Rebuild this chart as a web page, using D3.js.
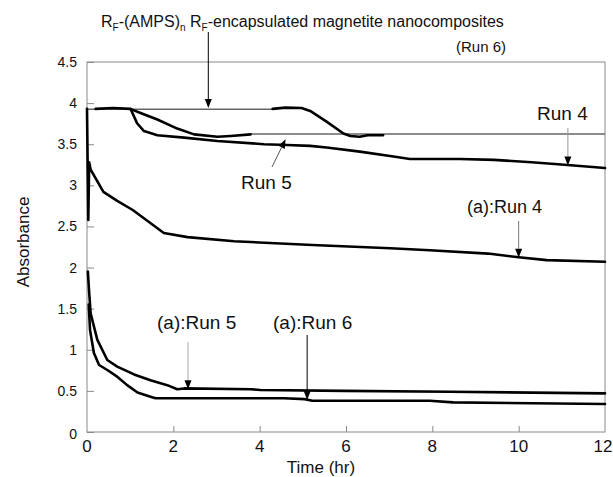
<!DOCTYPE html>
<html>
<head>
<meta charset="utf-8">
<script src="https://cdn.jsdelivr.net/npm/d3@7"></script>
<style>
  html, body { margin: 0; padding: 0; background: #fff; }
  svg { display: block; font-family: "Liberation Sans", Arial, Helvetica, sans-serif; }
</style>
</head>
<body>
<svg id="chart" width="613" height="477"></svg>
<script>
// Absorbance vs. time, [time (hr), absorbance]
const run6Flat = [[0, 3.925], [4.3, 3.925]];
const run6 = [[4.3, 3.93], [4.6, 3.945], [4.97, 3.94], [5.17, 3.905], [5.55, 3.775], [5.94, 3.63],
  [6.1, 3.6], [6.32, 3.59], [6.5, 3.61], [6.86, 3.61]];
const run5 = [[0.2, 3.93], [0.6, 3.94], [1.0, 3.93], [1.24, 3.88], [1.63, 3.8], [2.09, 3.69],
  [2.48, 3.62], [3.02, 3.59], [3.33, 3.6], [3.79, 3.62]];
const run5Flat = [[3.8, 3.625], [12, 3.625]];
const run4 = [[1.01, 3.93], [1.16, 3.755], [1.32, 3.66], [1.63, 3.61], [2.25, 3.58], [3.02, 3.54],
  [4.1, 3.5], [4.63, 3.49], [5.17, 3.48], [5.55, 3.46], [6.32, 3.41], [7.1, 3.35], [7.48, 3.32],
  [8.64, 3.32], [9.43, 3.31], [10.3, 3.28], [11.06, 3.25], [12, 3.21]];
const aRun4 = [[0, 3.93], [0.03, 2.58], [0.05, 3.28], [0.085, 3.19], [0.38, 2.92], [0.7, 2.81],
  [1.06, 2.7], [1.42, 2.56], [1.78, 2.42], [2.33, 2.37], [3.41, 2.32], [5.22, 2.275],
  [7.03, 2.235], [7.94, 2.21], [9.29, 2.17], [10.0, 2.125], [10.65, 2.09], [12, 2.07]];
const aRun5 = [[0.02, 1.95], [0.05, 1.7], [0.085, 1.44], [0.24, 1.12], [0.47, 0.876], [0.7, 0.795],
  [1.09, 0.7], [1.47, 0.63], [1.86, 0.57], [2.09, 0.52], [2.25, 0.53], [3.8, 0.52], [4.02, 0.51],
  [5.95, 0.5], [8.4, 0.49], [12, 0.47]];
const aRun6 = [[0.04, 1.55], [0.07, 1.24], [0.16, 0.96], [0.28, 0.815], [0.47, 0.754], [0.7, 0.673],
  [0.93, 0.57], [1.17, 0.48], [1.47, 0.43], [1.59, 0.41], [4.56, 0.41], [5.04, 0.4], [5.22, 0.38],
  [7.94, 0.38], [8.48, 0.36], [12, 0.34]];

const xTicks = [0, 2, 4, 6, 8, 10, 12];
const yTicks = [0, 0.5, 1, 1.5, 2, 2.5, 3, 3.5, 4, 4.5];

const svg = d3.select("#chart");
const x = d3.scaleLinear().domain([0, 12]).range([87, 605]);
const y = d3.scaleLinear().domain([0, 4.5]).range([432, 62]);
const frame = "#8a8a8a";

// plot frame
svg.append("rect")
  .attr("x", x(0)).attr("y", y(4.5))
  .attr("width", x(12) - x(0)).attr("height", y(0) - y(4.5))
  .attr("fill", "none").attr("stroke", frame).attr("stroke-width", 1);

// inward ticks
const yAxis = d3.axisRight(y).tickValues(yTicks).tickSize(7).tickFormat("");
svg.append("g").attr("transform", `translate(${x(0)},0)`).call(yAxis)
  .call(g => g.select(".domain").remove())
  .call(g => g.selectAll("line").attr("stroke", frame));
const xAxis = d3.axisTop(x).tickValues(xTicks.slice(1, -1)).tickSize(6).tickFormat("");
svg.append("g").attr("transform", `translate(0,${y(0)})`).call(xAxis)
  .call(g => g.select(".domain").remove())
  .call(g => g.selectAll("line").attr("stroke", frame));

// tick labels
svg.append("g").selectAll("text").data(yTicks).join("text")
  .attr("x", 77).attr("y", d => y(d) + (d === 0 ? 7 : 5))
  .attr("text-anchor", "end").attr("font-size", 14).attr("fill", "#111")
  .text(d => d);
svg.append("g").selectAll("text").data(xTicks).join("text")
  .attr("x", d => x(d) + (d === 12 ? -2 : 0)).attr("y", 452)
  .attr("text-anchor", "middle").attr("font-size", 17).attr("fill", "#111")
  .text(d => d);

// axis titles
svg.append("text").attr("x", 321).attr("y", 473).attr("text-anchor", "middle")
  .attr("font-size", 17).attr("fill", "#111").text("Time (hr)");
svg.append("text").attr("transform", "translate(29,242) rotate(-90)").attr("text-anchor", "middle")
  .attr("font-size", 17).attr("fill", "#111").text("Absorbance");

// curves
const line = d3.line().x(d => x(d[0])).y(d => y(d[1]));
const thin = [run6Flat, run5Flat];
const thick = [run6, run5, run4, aRun4, aRun5, aRun6];
svg.append("g").selectAll("path").data(thin).join("path")
  .attr("d", line).attr("fill", "none").attr("stroke", "#666").attr("stroke-width", 1.6);
svg.append("g").selectAll("path").data(thick).join("path")
  .attr("d", line).attr("fill", "none").attr("stroke", "#000").attr("stroke-width", 2.6)
  .attr("stroke-linejoin", "round").attr("stroke-linecap", "round");

// pointer arrows: from (x0,y0) pixel to a data point
function arrow(x0, y0, t, v, color) {
  const x1 = x(t), y1 = y(v);
  const ang = Math.atan2(y1 - y0, x1 - x0);
  const len = 9, half = 3.5;
  const bx = x1 - len * Math.cos(ang), by = y1 - len * Math.sin(ang);
  svg.append("line").attr("x1", x0).attr("y1", y0).attr("x2", bx).attr("y2", by)
    .attr("stroke", color).attr("stroke-width", 1);
  const px = -Math.sin(ang) * half, py = Math.cos(ang) * half;
  svg.append("path")
    .attr("d", `M${x1},${y1}L${bx + px},${by + py}L${bx - px},${by - py}Z`)
    .attr("fill", "#000");
}
arrow(x(2.81), 32, 2.81, 3.94, "#000");
arrow(x(11.14), 128, 11.14, 3.24, "#999");
arrow(272, 167, 4.6, 3.56, "#555");
arrow(x(10.0), 221, 10.0, 2.12, "#777");
arrow(x(2.34), 342, 2.34, 0.52, "#aaa");
arrow(x(5.1), 335, 5.1, 0.39, "#000");

// labels
const title = svg.append("text").attr("x", 101).attr("y", 27).attr("font-size", 16).attr("fill", "#111");
title.append("tspan").text("R");
title.append("tspan").attr("font-size", 10).attr("dy", 4).text("F");
title.append("tspan").attr("dy", -4).text("-(AMPS)");
title.append("tspan").attr("font-size", 10).attr("dy", 4).text("n");
title.append("tspan").attr("dy", -4).text(" R");
title.append("tspan").attr("font-size", 10).attr("dy", 4).text("F");
title.append("tspan").attr("dy", -4).text("-encapsulated magnetite nanocomposites");

const labels = [
  { text: "(Run 6)", x: 506, y: 52, size: 15, anchor: "end" },
  { text: "Run 4", x: 537, y: 120, size: 19, anchor: "start" },
  { text: "Run 5", x: 241, y: 189, size: 19, anchor: "start" },
  { text: "(a):Run 4", x: 467, y: 213, size: 18, anchor: "start" },
  { text: "(a):Run 5", x: 157, y: 329, size: 19, anchor: "start" },
  { text: "(a):Run 6", x: 273, y: 329, size: 19, anchor: "start" }
];
svg.append("g").selectAll("text").data(labels).join("text")
  .attr("x", d => d.x).attr("y", d => d.y).attr("font-size", d => d.size)
  .attr("text-anchor", d => d.anchor).attr("fill", "#111").text(d => d.text);
</script>
</body>
</html>
